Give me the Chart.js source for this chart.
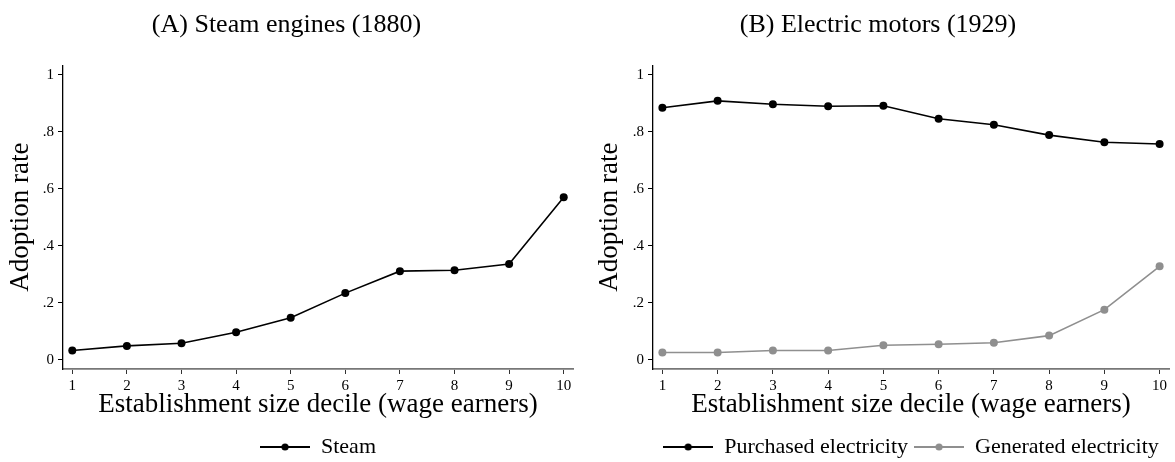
<!DOCTYPE html>
<html>
<head>
<meta charset="utf-8">
<script src="https://cdn.jsdelivr.net/npm/chart.js@4"></script>
<style>
  html, body { margin: 0; padding: 0; background: #fff; }
  body { width: 1175px; height: 462px; position: relative; overflow: hidden; }
  canvas { position: absolute; top: 0; }
  #steamChart { left: 0; }
  #motorChart { left: 587px; }
</style>
</head>
<body>
<canvas id="steamChart" width="588" height="462"></canvas>
<canvas id="motorChart" width="588" height="462"></canvas>
<script>
const deciles = [1, 2, 3, 4, 5, 6, 7, 8, 9, 10];
const steam = [0.033, 0.049, 0.058, 0.097, 0.148, 0.234, 0.311, 0.314, 0.336, 0.570];
const purchased = [0.884, 0.908, 0.896, 0.889, 0.891, 0.845, 0.824, 0.788, 0.763, 0.757];
const generated = [0.026, 0.026, 0.033, 0.033, 0.051, 0.055, 0.060, 0.085, 0.176, 0.328];
const yTicks = [0, 0.2, 0.4, 0.6, 0.8, 1];
const yTickLabels = ['0', '.2', '.4', '.6', '.8', '1'];

const xTitle = 'Establishment size decile (wage earners)';
const yTitle = 'Adoption rate';

Chart.defaults.font.family = "'Liberation Serif', serif";
Chart.defaults.color = '#000';

// line-with-dot icon used as legend symbol
function legendIcon(color) {
  const c = document.createElement('canvas');
  c.width = 50; c.height = 10;
  const g = c.getContext('2d');
  g.strokeStyle = color; g.lineWidth = 1.8;
  g.beginPath(); g.moveTo(0, 5); g.lineTo(50, 5); g.stroke();
  g.fillStyle = color;
  g.beginPath(); g.arc(25, 5, 3.6, 0, Math.PI * 2); g.fill();
  return c;
}

// center the legend under the plot area and nudge it down
const plotLegend = {
  id: 'plotLegend',
  afterLayout(chart, args, opts) {
    const lg = chart.legend, ca = chart.chartArea;
    lg.left = ca.left; lg.right = ca.right;
    lg.top += opts.shiftY; lg.bottom += opts.shiftY;
  }
};

function series(label, values, color) {
  return {
    label: label,
    data: values.map((v, i) => ({ x: deciles[i], y: v })),
    borderColor: color,
    backgroundColor: color,
    borderWidth: 1.6,
    pointRadius: 4,
    pointBorderWidth: 0,
    pointBackgroundColor: color,
    tension: 0
  };
}

function makeChart(id, title, datasets, yWidth, yTitlePad, padRight) {
  return new Chart(document.getElementById(id), {
    type: 'line',
    data: { datasets: datasets },
    plugins: [plotLegend],
    options: {
      responsive: false,
      animation: false,
      devicePixelRatio: 1,
      layout: { padding: { left: 0, right: padRight, top: 0, bottom: 3 } },
      plugins: {
        title: {
          display: true, text: title, color: '#000',
          font: { size: 26, weight: 'normal' },
          padding: { top: 10, bottom: 24 }
        },
        legend: {
          position: 'bottom',
          labels: {
            usePointStyle: true, pointStyleWidth: 50, padding: 6,
            font: { size: 22 }, color: '#000',
            generateLabels: chart => chart.data.datasets.map((ds, i) => ({
              text: ds.label,
              pointStyle: legendIcon(ds.borderColor),
              fillStyle: ds.borderColor,
              strokeStyle: ds.borderColor,
              lineWidth: 0,
              fontColor: '#000',
              hidden: false,
              datasetIndex: i
            }))
          }
        },
        plotLegend: { shiftY: 9 },
        tooltip: { enabled: false }
      },
      scales: {
        x: {
          type: 'linear', min: 0.83, max: 10.17,
          afterBuildTicks: s => { s.ticks = deciles.map(v => ({ value: v })); },
          afterFit: s => { s.height = 52; },
          grid: { drawOnChartArea: false, tickLength: 5, tickColor: '#333', tickWidth: 1 },
          border: { color: '#777', width: 1.8 },
          ticks: { font: { size: 15 }, padding: 3, maxRotation: 0, autoSkip: false, callback: v => String(v) },
          title: { display: true, text: xTitle, font: { size: 27 }, padding: { top: 0, bottom: 0 } }
        },
        y: {
          min: -0.032, max: 1.033,
          afterBuildTicks: s => { s.ticks = yTicks.map(v => ({ value: v })); },
          afterFit: s => { s.width = yWidth; },
          grid: { drawOnChartArea: false, tickLength: 5, tickColor: '#000', tickWidth: 1 },
          border: { color: '#000', width: 1.3 },
          ticks: { font: { size: 15 }, padding: 4, callback: v => yTickLabels[yTicks.indexOf(v)] },
          title: { display: true, text: yTitle, font: { size: 27 }, padding: { top: yTitlePad, bottom: 0 } }
        }
      }
    }
  });
}

makeChart('steamChart', '(A) Steam engines (1880)',
  [series('Steam', steam, '#000')], 63, 5, 15);

makeChart('motorChart', '(B) Electric motors (1929)',
  [series('Purchased electricity', purchased, '#000'),
   series('Generated electricity', generated, '#8f8f8f')], 66, 7, 6);
</script>
</body>
</html>
